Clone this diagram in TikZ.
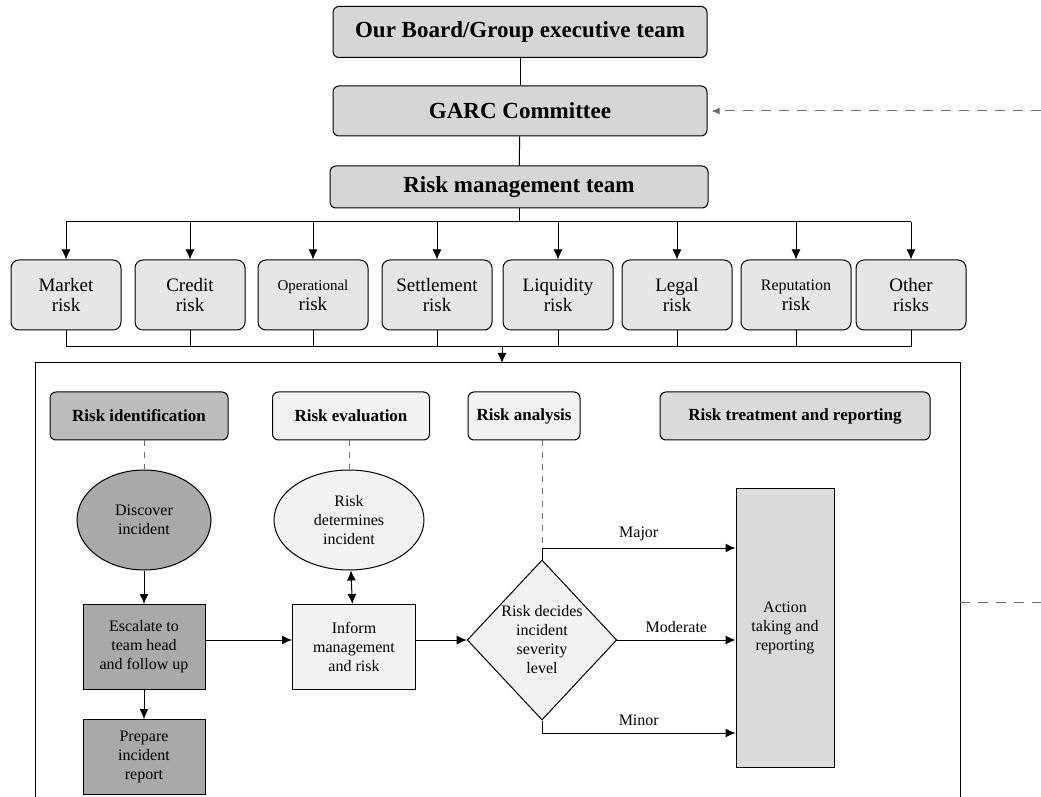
\documentclass[tikz,border=0pt]{standalone}
\usepackage{fontspec}
\setmainfont{Liberation Serif}
\usetikzlibrary{shapes.geometric,arrows.meta}

\definecolor{boardgray}{HTML}{D6D6D6}
\definecolor{riskgray}{HTML}{E6E6E6}
\definecolor{darkgray}{HTML}{A9A9A9}
\definecolor{headdark}{HTML}{BCBCBC}
\definecolor{lightgray}{HTML}{F2F2F2}
\definecolor{midgray}{HTML}{DADADA}
\definecolor{dashgray}{HTML}{6E6E6E}

\begin{document}
\begin{tikzpicture}[x=0.5pt,y=-0.5pt,line width=0.5pt,
    >={Latex[length=5pt,width=4.5pt]},
    topbox/.style={draw,rounded corners=3pt,fill=boardgray,minimum width=187pt,
        font=\fontsize{11.5}{13}\selectfont\bfseries},
    riskbox/.style={draw,rounded corners=4pt,fill=riskgray,minimum width=55pt,
        minimum height=35pt,align=center,font=\fontsize{9.5}{10}\selectfont},
    phase/.style={draw,rounded corners=3pt,minimum height=24pt,
        font=\fontsize{8.5}{10}\selectfont\bfseries},
    stepnode/.style={draw,align=center,font=\fontsize{8}{9.5}\selectfont},
    blob/.style={draw,ellipse,align=center,minimum height=50pt,inner sep=0pt,
        font=\fontsize{8}{9.5}\selectfont},
    lbl/.style={font=\fontsize{8}{9.5}\selectfont,above},
    link/.style={dash pattern=on 5pt off 4pt,dashgray}]
    \useasboundingbox (0,0) rectangle (1041,797);

    \node[topbox,minimum height=25.5pt] (board) at (520,32) {Our Board/Group executive team};
    \node[topbox,minimum height=25pt] (garc) at (520,111) {GARC Committee};
    \node[topbox,minimum height=21pt,minimum width=189pt] (rmt) at (519,187) {Risk management team};
    \draw (board) -- (garc);
    \draw (garc) -- (rmt);

    \foreach \n/\x/\t in {mkt/66/{Market\\risk},crd/190/{Credit\\risk},
        ops/313/{{\fontsize{7.5}{8}\selectfont Operational}\\risk},set/437/{Settlement\\risk},
        liq/558/{Liquidity\\risk},leg/677/{Legal\\risk},
        rep/796/{{\fontsize{8}{8}\selectfont Reputation}\\risk},oth/911/{Other\\risks}} {
        \node[riskbox] (\n) at (\x,295) {\t};
        \draw[->] (\n.north |- 0,222) -- (\n.north);
        \draw (\n.south) -- (\n.south |- 0,347);
    }
    \draw (rmt.south) -- (rmt.south |- 0,222);
    \draw (mkt.north |- 0,222) -- (oth.north |- 0,222);
    \draw (mkt.south |- 0,347) -- (oth.south |- 0,347);

    \coordinate (busdown) at (502,347);
    \coordinate (frametop) at (502,363);
    \draw[->] (busdown) -- (frametop);
    \draw (35,797) -- (35,363) -- (960,363) -- (960,797);

    \node[phase,fill=headdark,minimum width=89pt] (ident) at (139,416) {Risk identification};
    \node[phase,fill=lightgray,minimum width=78.5pt] (eval) at (351,416) {Risk evaluation};
    \node[phase,fill=lightgray,minimum width=56pt] (ana) at (524,416) {Risk analysis};
    \node[phase,fill=midgray,minimum width=135pt] (treat) at (795,416) {Risk treatment and reporting};

    \node[blob,fill=darkgray,minimum width=67pt] (disc) at (144,520) {Discover\\incident};
    \node[blob,fill=lightgray,minimum width=75pt] (det) at (349,520) {Risk\\determines\\incident};
    \node[stepnode,fill=darkgray,minimum width=61pt,minimum height=42.5pt] (esc) at (144,647)
        {Escalate to\\team head\\and follow up};
    \node[stepnode,fill=darkgray,minimum width=61pt,minimum height=37.5pt] (prep) at (144,757)
        {Prepare\\incident\\report};
    \node[stepnode,fill=lightgray,minimum width=61.5pt,minimum height=42.5pt] (inf) at (354,647)
        {Inform\\management\\and risk};
    \node[draw,diamond,fill=lightgray,inner sep=0pt,minimum width=73.5pt,minimum height=80pt,
        align=center,font=\fontsize{8}{9.5}\selectfont] (dia) at (542,640)
        {Risk decides\\incident\\severity\\level};
    \node[stepnode,fill=midgray,minimum width=49pt,minimum height=139.5pt,anchor=north] (act) at (785,488)
        {Action\\taking and\\reporting};

    \draw[dashed,dashgray] (ident.south -| disc.north) -- (disc.north);
    \draw[dashed,dashgray] (eval.south -| det.north) -- (det.north);
    \draw[dashed,dashgray] (dia.north |- ana.south) -- (dia.north |- 0,548);

    \draw[->] (disc) -- (esc);
    \draw[->] (esc) -- (prep);
    \draw[<->] (det) -- (inf);
    \draw[->] (esc.east |- dia.west) -- (inf.west |- dia.west);
    \draw[->] (inf.east |- dia.west) -- (dia.west);

    \draw[->] (dia.north) |- (act.west |- 0,548) node[lbl,pos=0.75] {Major};
    \draw[->] (dia.east) -- (act.west |- dia.east) node[lbl,midway] {Moderate};
    \draw[->] (dia.south) |- (act.west |- 0,733) node[lbl,pos=0.75] {Minor};

    \coordinate (feedin) at (1041,111);
    \coordinate (frameright) at (960,602);
    \coordinate (feedout) at (1041,602);
    \draw[link,-{Latex[length=4pt,width=3.5pt]}] (feedin) -- ([xshift=2pt]garc.east);
    \draw[link] (frameright) -- (feedout);
\end{tikzpicture}
\end{document}
